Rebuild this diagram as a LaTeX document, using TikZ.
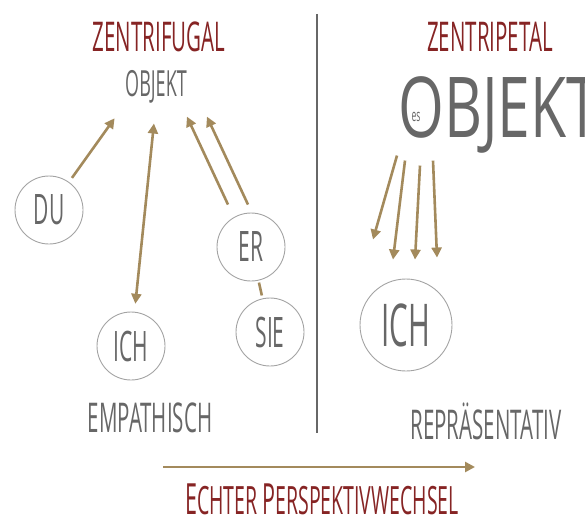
\documentclass[tikz,border=0pt]{standalone}
\usepackage{fontspec}
\newfontfamily\hand[FakeStretch=0.5]{Open Sans}
\newfontfamily\handwide[FakeStretch=0.7]{Open Sans}
\usetikzlibrary{arrows.meta,calc}
\definecolor{zrot}{HTML}{862424}
\definecolor{zgrau}{HTML}{676767}
\definecolor{zbraun}{HTML}{A38A5C}
\definecolor{zkreis}{HTML}{A3A3A3}

\begin{document}
\begin{tikzpicture}[x=1pt, y=-1pt, text=zgrau]
    \tikzset{ titel/.style={text=zrot, inner sep=0pt, font=\hand\fontsize{41}{41}\selectfont},
      wort/.style={inner sep=0pt, font=\hand\fontsize{41}{41}\selectfont},
      person/.style={circle, draw=zkreis, line width=0.9pt, minimum size=68pt, inner sep=0pt, font=\hand\fontsize{42}{42}\selectfont},
      pfeil/.style={draw=zbraun, line width=2.6pt, -{Triangle[length=10pt,width=10pt]}},
      doppelpfeil/.style={pfeil, {Triangle[length=10pt,width=10pt]}-{Triangle[length=10pt,width=10pt]}},
      strich/.style={draw=zbraun, line width=2.6pt} }
    \useasboundingbox (0,0) rectangle (585,519);

    \node[titel] (zfugal) at (159,37) {ZENTRIFUGAL};
    \node[titel] (zpetal) at (490,37) {ZENTRIPETAL};

    \node[wort, font=\hand\fontsize{36}{36}\selectfont] (objL) at (156,87) {OBJEKT};
    \node[inner sep=0pt, anchor=west, font=\handwide\fontsize{84}{84}\selectfont] (objR) at (398,115) {OBJEKT};
    \node[inner sep=0pt, font=\hand\fontsize{17}{17}\selectfont] (es) at (416,117) {es};

    \node[person] (du) at (49,210) {DU};
    \node[person] (ichL) at (131,346) {ICH};
    \node[person] (er) at (251,247) {ER};
    \node[person] (sie) at (270,332) {SIE};
    \node[person, minimum size=92pt, font=\hand\fontsize{59}{59}\selectfont] (ichR) at (406,325) {ICH};

    \node[wort] (empath) at (150,418) {EMPATHISCH};
    \node[wort, font=\hand\fontsize{41}{41}\selectfont] (repr) at (486,421) {REPRÄSENTATIV};
    \node[titel, font=\hand\fontsize{39}{39}\selectfont] (wechsel) at (322,499) {{\fontsize{43}{43}\selectfont E}CHTER {\fontsize{43}{43}\selectfont P}ERSPEKTIVWECHSEL};

    \draw[zgrau, line width=1.6pt] (317,14) -- (317,433);

    \draw[pfeil, shorten <=5pt, shorten >=18pt] (du) -- (objL.south west);
    \draw[doppelpfeil, shorten <=8pt, shorten >=20pt] (ichL) -- (objL.south);
    \draw[pfeil] ($(er.north)+(-23,-8)$) -- ($(objL.south east)+(0,13)$);
    \draw[pfeil] ($(er.north)+(-3,-8)$) -- ($(objL.south east)+(20,13)$);
    \draw[strich, shorten <=2pt, shorten >=3pt] (er) -- (sie);

    \draw[pfeil] ($(objR.south west)+(-1,2)$) -- ($(ichR.north)+(-33,-39)$);
    \draw[pfeil] ($(objR.south west)+(7,7)$) -- ($(ichR.north)+(-13,-19)$);
    \draw[pfeil] ($(objR.south west)+(22,12)$) -- ($(ichR.north)+(9,-19)$);
    \draw[pfeil] ($(objR.south west)+(35,7)$) -- ($(ichR.north)+(31,-21)$);

    \coordinate (pw-a) at (163,467);
    \coordinate (pw-b) at (475,467);
    \draw[pfeil] (pw-a) -- (pw-b);
  \end{tikzpicture}
\end{document}
